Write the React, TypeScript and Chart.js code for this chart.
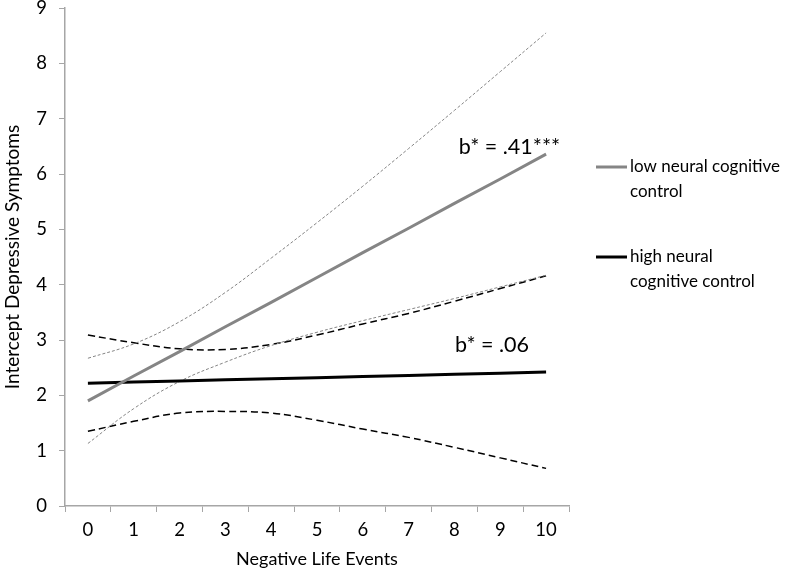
import React, { useEffect, useRef } from "react";
import { Chart, registerables } from "chart.js";

Chart.register(...registerables);

const categories = ["0", "1", "2", "3", "4", "5", "6", "7", "8", "9", "10"];
const yTicks = [0, 1, 2, 3, 4, 5, 6, 7, 8, 9];

const lowValues = [1.9, 2.35, 2.79, 3.24, 3.68, 4.13, 4.58, 5.02, 5.47, 5.91, 6.36];
const lowUpper = [2.67, 2.93, 3.33, 3.86, 4.48, 5.12, 5.78, 6.46, 7.15, 7.85, 8.55];
const lowLower = [1.13, 1.76, 2.25, 2.6, 2.9, 3.14, 3.35, 3.55, 3.75, 3.96, 4.17];

const highValues = [2.22, 2.24, 2.26, 2.28, 2.3, 2.32, 2.34, 2.36, 2.38, 2.4, 2.42];
const highUpper = [3.09, 2.95, 2.84, 2.83, 2.92, 3.09, 3.29, 3.48, 3.7, 3.93, 4.16];
const highLower = [1.35, 1.53, 1.68, 1.71, 1.68, 1.55, 1.39, 1.24, 1.06, 0.87, 0.68];

const seriesNames = ["low neural cognitive control", "high neural cognitive control"];
const legendLines = [["low neural cognitive", "control"], ["high neural", "cognitive control"]];
const slopeLabels = ["b* = .41***", "b* = .06"];

const FONT = "Lato, 'Open Sans', sans-serif";
const GREY = "#858585";
const AXIS = "#a6a6a6";

export default function App() {
  const ref = useRef<HTMLCanvasElement | null>(null);

  useEffect(() => {
    if (!ref.current) return;

    const overlay = {
      id: "overlay",
      afterDraw(chart: any) {
        const ctx = chart.ctx;
        const xs = chart.scales.x;
        const ys = chart.scales.y;
        const area = chart.chartArea;
        ctx.save();
        ctx.fillStyle = "#000";
        ctx.textBaseline = "middle";
        // slope annotations
        ctx.font = `21.5px ${FONT}`;
        ctx.textAlign = "center";
        ctx.fillText(slopeLabels[0], xs.getPixelForValue(9.2), ys.getPixelForValue(6.49));
        ctx.fillText(slopeLabels[1], xs.getPixelForValue(8.82), ys.getPixelForValue(2.91));
        // legend
        ctx.font = `17px ${FONT}`;
        const ds = chart.data.datasets;
        const tops = [area.top + 159, area.top + 249];
        ctx.textAlign = "left";
        for (let i = 0; i < 2; i++) {
          const yy = tops[i];
          ctx.strokeStyle = ds[i].borderColor;
          ctx.lineWidth = ds[i].borderWidth;
          ctx.beginPath();
          ctx.moveTo(area.right + 27, yy);
          ctx.lineTo(area.right + 58, yy);
          ctx.stroke();
          legendLines[i].forEach((t, j) => ctx.fillText(t, area.right + 61, yy + j * 25));
        }
        ctx.restore();
      },
    };

    const chart = new Chart(ref.current, {
      type: "line",
      data: {
        labels: categories,
        datasets: [
          {
            label: seriesNames[0],
            data: lowValues,
            borderColor: GREY,
            borderWidth: 3,
            pointRadius: 0,
            tension: 0,
          },
          {
            label: seriesNames[1],
            data: highValues,
            borderColor: "#000",
            borderWidth: 3,
            pointRadius: 0,
            tension: 0,
          },
          {
            label: "low upper",
            data: lowUpper,
            borderColor: GREY,
            borderWidth: 1,
            borderDash: [3, 2],
            pointRadius: 0,
            tension: 0.4,
          },
          {
            label: "low lower",
            data: lowLower,
            borderColor: GREY,
            borderWidth: 1,
            borderDash: [3, 2],
            pointRadius: 0,
            tension: 0.4,
          },
          {
            label: "high upper",
            data: highUpper,
            borderColor: "#000",
            borderWidth: 1.5,
            borderDash: [7, 4],
            pointRadius: 0,
            tension: 0.4,
          },
          {
            label: "high lower",
            data: highLower,
            borderColor: "#000",
            borderWidth: 1.5,
            borderDash: [7, 4],
            pointRadius: 0,
            tension: 0.4,
          },
        ],
      },
      options: {
        responsive: false,
        animation: false,
        events: [],
        layout: { padding: { left: 0, right: 231, top: 0, bottom: 0 } },
        plugins: { legend: { display: false }, tooltip: { enabled: false } },
        scales: {
          x: {
            type: "category",
            offset: true,
            afterFit(s: any) {
              s.height = 65;
              s.paddingLeft = 0;
              s.paddingRight = 0;
            },
            grid: {
              offset: true,
              drawOnChartArea: false,
              drawTicks: true,
              tickLength: 6,
              color: AXIS,
            },
            border: { color: AXIS, width: 1.5 },
            ticks: { color: "#000", font: { family: FONT, size: 18.5 }, padding: 7, maxRotation: 0 },
            title: {
              display: true,
              text: "Negative Life Events",
              color: "#000",
              font: { family: FONT, size: 18 },
              padding: { top: 0, bottom: 1 },
            },
          },
          y: {
            min: 0,
            max: 9,
            afterFit(s: any) {
              s.width = 65;
              s.paddingTop = 8;
              s.paddingBottom = 0;
            },
            afterBuildTicks(s: any) {
              s.ticks = yTicks.map((v) => ({ value: v }));
            },
            grid: {
              drawOnChartArea: false,
              drawTicks: true,
              tickLength: 6,
              color: AXIS,
            },
            border: { color: AXIS, width: 1.5 },
            ticks: { color: "#000", font: { family: FONT, size: 18.5 }, padding: 12 },
            title: {
              display: true,
              text: "Intercept Depressive Symptoms",
              color: "#000",
              font: { family: FONT, size: 19 },
              padding: { top: 1, bottom: 0 },
            },
          },
        },
      },
      plugins: [overlay],
    });

    return () => chart.destroy();
  }, []);

  return (
    <div style={{ position: "fixed", left: 0, top: 0, width: 800, height: 571, background: "#fff" }}>
      <canvas ref={ref} width={800} height={571} style={{ width: 800, height: 571 }} />
    </div>
  );
}
